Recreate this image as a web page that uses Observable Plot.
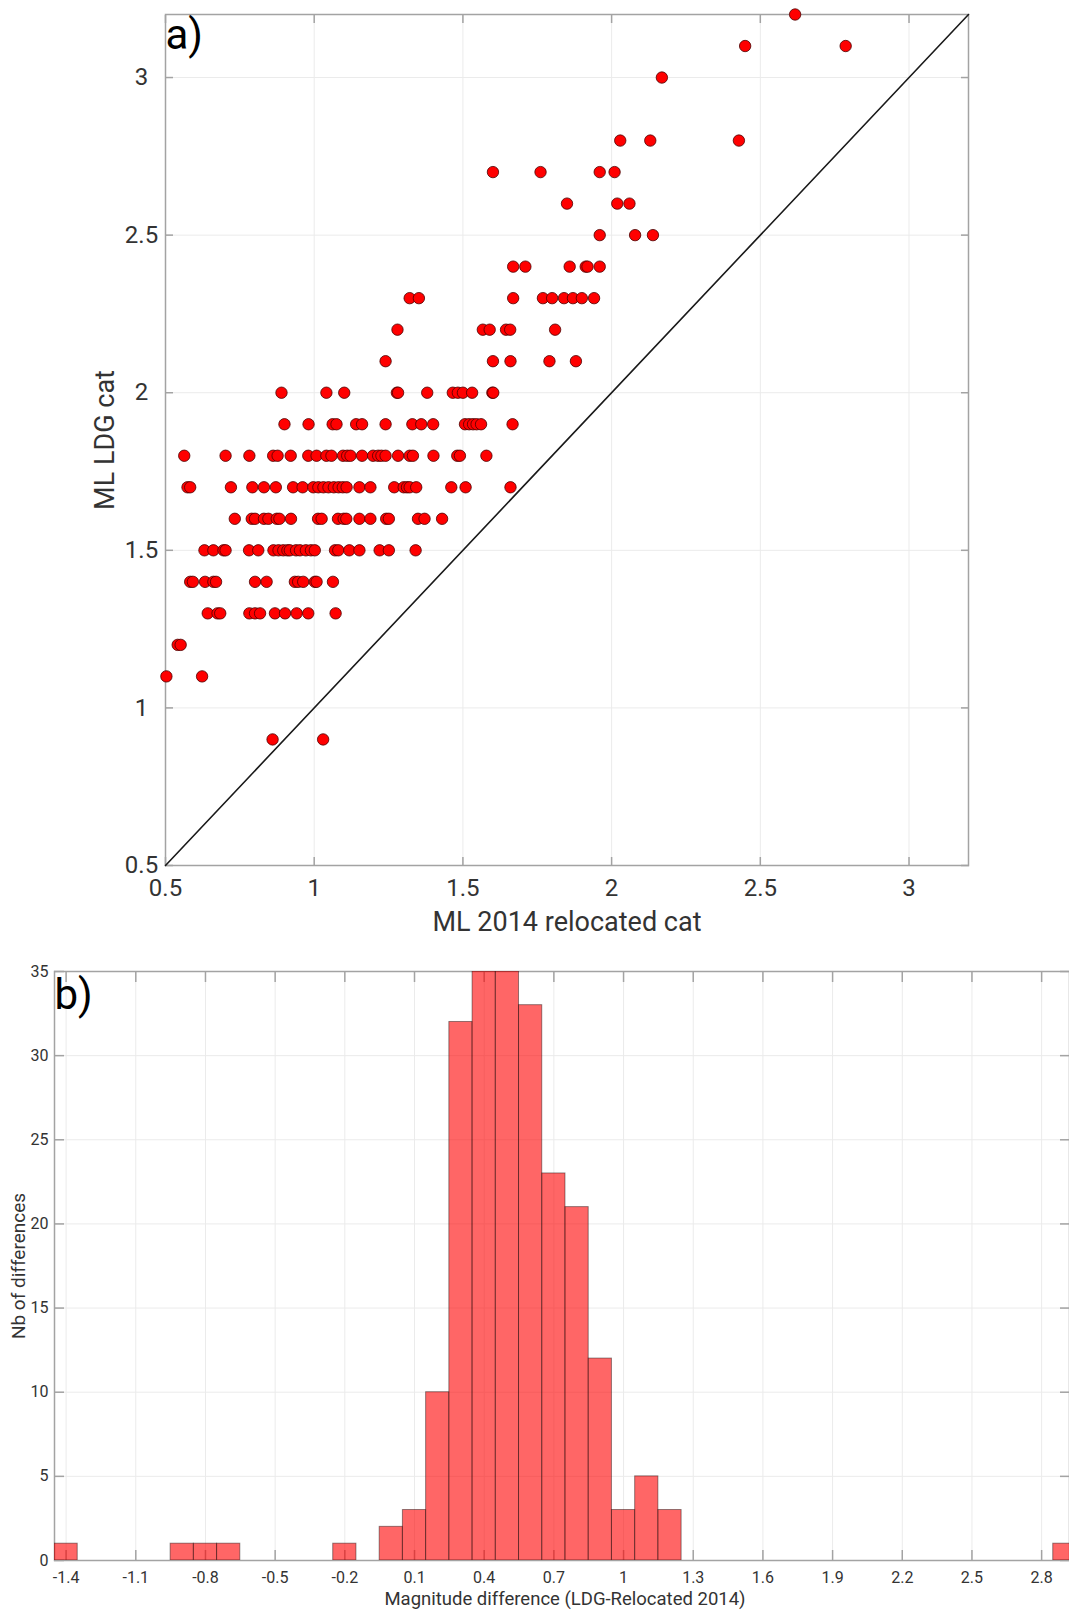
<!DOCTYPE html>
<html>
<head>
<meta charset="utf-8">
<script src="https://cdn.jsdelivr.net/npm/d3@7"></script>
<script src="https://cdn.jsdelivr.net/npm/@observablehq/plot@0.6"></script>
<style>
  html, body { margin: 0; padding: 0; background: #fff; overflow: hidden; }
  #chart svg { display: block; overflow: hidden; }
</style>
</head>
<body>
<div id="chart"></div>
<script>
// ---------- Panel a: ML LDG cat vs ML 2014 relocated cat ----------
const ldgLevels = [0.9, 1.1, 1.2, 1.3, 1.4, 1.5, 1.6, 1.7, 1.8, 1.9, 2.0, 2.1, 2.2, 2.3, 2.4, 2.5, 2.6, 2.7, 2.8, 3.0, 3.1, 3.2];
const relocatedByLevel = [
  [0.86, 1.03],                                                                   // 0.9
  [0.503, 0.623],                                                                 // 1.1
  [0.541, 0.551],                                                                 // 1.2
  [0.642, 0.675, 0.684, 0.782, 0.801, 0.818, 0.868, 0.902, 0.941, 0.980, 1.072],  // 1.3
  [0.583, 0.592, 0.633, 0.661, 0.670, 0.801, 0.840, 0.935, 0.946, 0.963, 1.002, 1.008, 1.063], // 1.4
  [0.631, 0.661, 0.695, 0.702, 0.781, 0.812, 0.863, 0.880, 0.896, 0.910, 0.918, 0.939, 0.952,
   0.972, 0.989, 1.002, 1.070, 1.081, 1.118, 1.152, 1.220, 1.251, 1.341],          // 1.5
  [0.733, 0.790, 0.801, 0.831, 0.846, 0.874, 0.883, 0.922, 1.013, 1.025, 1.080, 1.099, 1.108,
   1.152, 1.189, 1.242, 1.251, 1.349, 1.371, 1.430],                               // 1.6
  [0.574, 0.583, 0.720, 0.792, 0.831, 0.871, 0.929, 0.961, 0.997, 1.014, 1.031, 1.048, 1.066,
   1.082, 1.096, 1.109, 1.152, 1.189, 1.269, 1.301, 1.312, 1.321, 1.343, 1.461, 1.509, 1.660], // 1.7
  [0.563, 0.702, 0.782, 0.862, 0.877, 0.921, 0.980, 1.008, 1.041, 1.058, 1.097, 1.111, 1.122,
   1.161, 1.198, 1.215, 1.226, 1.240, 1.282, 1.321, 1.332, 1.401, 1.481, 1.490, 1.579], // 1.8
  [0.900, 0.981, 1.062, 1.075, 1.141, 1.161, 1.240, 1.330, 1.360, 1.400, 1.507, 1.521, 1.534,
   1.546, 1.561, 1.667],                                                           // 1.9
  [0.890, 1.041, 1.101, 1.278, 1.282, 1.380, 1.466, 1.483, 1.500, 1.531, 1.599, 1.602], // 2.0
  [1.240, 1.601, 1.660, 1.791, 1.880],                                            // 2.1
  [1.280, 1.567, 1.590, 1.645, 1.659, 1.810],                                     // 2.2
  [1.321, 1.352, 1.669, 1.769, 1.800, 1.840, 1.870, 1.900, 1.941],                // 2.3
  [1.669, 1.710, 1.859, 1.913, 1.919, 1.960],                                     // 2.4
  [1.960, 2.079, 2.139],                                                          // 2.5
  [1.850, 2.019, 2.060],                                                          // 2.6
  [1.601, 1.761, 1.960, 2.010],                                                   // 2.7
  [2.029, 2.130, 2.428],                                                          // 2.8
  [2.169],                                                                        // 3.0
  [2.449, 2.787],                                                                 // 3.1
  [2.617]                                                                         // 3.2
];
const aTicks = [0.5, 1, 1.5, 2, 2.5, 3];
const aDomain = [0.5, 3.2];

// ---------- Panel b: histogram of magnitude differences ----------
const binCenters = [-1.4, -1.3, -1.2, -1.1, -1.0, -0.9, -0.8, -0.7, -0.6, -0.5, -0.4, -0.3, -0.2, -0.1,
  0.0, 0.1, 0.2, 0.3, 0.4, 0.5, 0.6, 0.7, 0.8, 0.9, 1.0, 1.1, 1.2,
  1.3, 1.4, 1.5, 1.6, 1.7, 1.8, 1.9, 2.0, 2.1, 2.2, 2.3, 2.4, 2.5, 2.6, 2.7, 2.8, 2.9];
const binCounts = [1, 0, 0, 0, 0, 1, 1, 1, 0, 0, 0, 0, 1, 0,
  2, 3, 10, 32, 35, 35, 33, 23, 21, 12, 3, 5, 3,
  0, 0, 0, 0, 0, 0, 0, 0, 0, 0, 0, 0, 0, 0, 0, 0, 1];
const bXTicks = [-1.4, -1.1, -0.8, -0.5, -0.2, 0.1, 0.4, 0.7, 1, 1.3, 1.6, 1.9, 2.2, 2.5, 2.8];
const bYTicks = [0, 5, 10, 15, 20, 25, 30, 35];
const bXDomain = [-1.45, 2.92];
const bYDomain = [0, 35];

// ---------- build tables ----------
const scatter = ldgLevels.flatMap((y, i) => relocatedByLevel[i].map(x => ({x, y})));
const binWidth = binCenters[1] - binCenters[0];
const bins = binCenters.map((c, i) => ({c, n: binCounts[i]})).filter(d => d.n > 0);

const gridColor = "#ebebeb";
const axisColor = "#a3a3a3";
const labelColor = "#333333";
const font = "Roboto, 'Noto Sans', sans-serif";

const plotA = Plot.plot({
  width: 1069, height: 940,
  marginLeft: 165, marginRight: 101, marginTop: 14, marginBottom: 75,
  x: {domain: aDomain},
  y: {domain: aDomain},
  style: {fontFamily: font, background: "white", color: labelColor},
  marks: [
    Plot.ruleX(aTicks, {x: d => d, stroke: gridColor}),
    Plot.ruleY(aTicks, {y: d => d, stroke: gridColor}),
    Plot.frame({stroke: axisColor, strokeWidth: 1.5}),
    Plot.axisX(aTicks, {anchor: "bottom", tickSize: -8, stroke: axisColor, strokeWidth: 1.5, tickFormat: () => "", label: null}),
    Plot.axisX(aTicks, {anchor: "top", tickSize: -8, stroke: axisColor, strokeWidth: 1.5, tickFormat: () => "", label: null}),
    Plot.axisY(aTicks, {anchor: "left", tickSize: -8, stroke: axisColor, strokeWidth: 1.5, tickFormat: () => "", label: null}),
    Plot.axisY(aTicks, {anchor: "right", tickSize: -8, stroke: axisColor, strokeWidth: 1.5, tickFormat: () => "", label: null}),
    Plot.dot(scatter, {x: "x", y: "y", r: 5.7, fill: "#ff0000", stroke: "#4a0000", strokeWidth: 0.8}),
    Plot.line(aDomain, {x: d => d, y: d => d, stroke: "#1a1a1a", strokeWidth: 1.6}),
    Plot.text(aTicks, {x: d => d, text: d => String(d), frameAnchor: "bottom", dy: 23, lineAnchor: "middle", fontSize: 24, fill: labelColor}),
    Plot.text(aTicks, {y: d => d, text: d => String(d), frameAnchor: "left", dx: -24, textAnchor: "middle", lineAnchor: "middle", fontSize: 24, fill: labelColor}),
    Plot.text(["ML 2014 relocated cat"], {text: d => d, frameAnchor: "bottom", dy: 57, textAnchor: "middle", lineAnchor: "middle", fontSize: 27, fill: labelColor}),
    Plot.text(["ML LDG cat"], {text: d => d, frameAnchor: "left", dx: -60, rotate: -90, textAnchor: "middle", lineAnchor: "middle", fontSize: 27, fill: labelColor}),
    Plot.text(["a)"], {text: d => d, frameAnchor: "top-left", dy: 5, textAnchor: "start", lineAnchor: "top", fontSize: 42, fill: "#000"})
  ]
});

const plotB = Plot.plot({
  width: 1069, height: 671,
  marginLeft: 54, marginRight: 0, marginTop: 31, marginBottom: 51,
  x: {domain: bXDomain},
  y: {domain: bYDomain},
  style: {fontFamily: font, background: "white", color: labelColor},
  marks: [
    Plot.ruleX(bXTicks, {x: d => d, stroke: gridColor}),
    Plot.ruleY(bYTicks, {y: d => d, stroke: gridColor}),
    Plot.frame({stroke: axisColor, strokeWidth: 1.5}),
    Plot.axisX(bXTicks, {anchor: "bottom", tickSize: -10, stroke: axisColor, strokeWidth: 1.5, tickFormat: () => "", label: null}),
    Plot.axisX(bXTicks, {anchor: "top", tickSize: -10, stroke: axisColor, strokeWidth: 1.5, tickFormat: () => "", label: null}),
    Plot.axisY(bYTicks, {anchor: "left", tickSize: -10, stroke: axisColor, strokeWidth: 1.5, tickFormat: () => "", label: null}),
    Plot.axisY(bYTicks, {anchor: "right", tickSize: -10, stroke: axisColor, strokeWidth: 1.5, tickFormat: () => "", label: null}),
    Plot.rectY(bins, {x1: d => d.c - binWidth / 2, x2: d => d.c + binWidth / 2, y: "n", fill: "#ff0000", fillOpacity: 0.6, stroke: "#000", strokeOpacity: 0.42, strokeWidth: 1, clip: true}),
    Plot.text(bXTicks, {x: d => d, text: d => String(d), frameAnchor: "bottom", dy: 17, lineAnchor: "middle", fontSize: 16, fill: labelColor}),
    Plot.text(bYTicks, {y: d => d, text: d => String(d), frameAnchor: "left", dx: -6, textAnchor: "end", lineAnchor: "middle", fontSize: 16, fill: labelColor}),
    Plot.text(["Magnitude difference (LDG-Relocated 2014)"], {text: d => d, frameAnchor: "bottom", dy: 39, dx: 3, textAnchor: "middle", lineAnchor: "middle", fontSize: 18.5, fill: labelColor}),
    Plot.text(["Nb of differences"], {text: d => d, frameAnchor: "left", dx: -36, rotate: -90, textAnchor: "middle", lineAnchor: "middle", fontSize: 19, fill: labelColor}),
    Plot.text(["b)"], {text: d => d, frameAnchor: "top-left", dy: 8, textAnchor: "start", lineAnchor: "top", fontSize: 42, fill: "#000"})
  ]
});

const chart = document.getElementById("chart");
chart.appendChild(plotA);
chart.appendChild(plotB);
</script>
</body>
</html>
